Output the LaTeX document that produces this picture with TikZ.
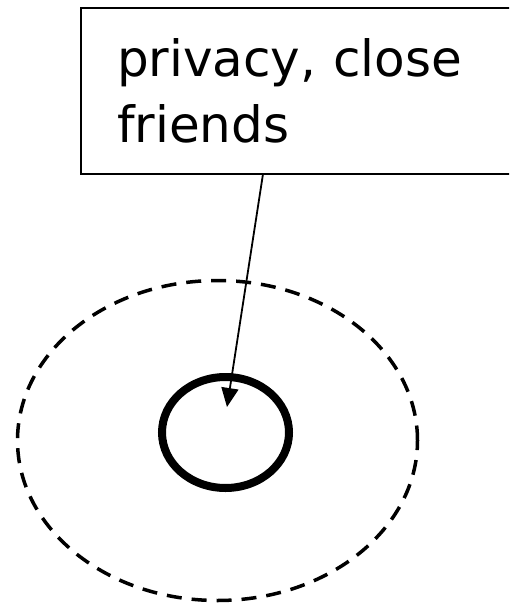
\documentclass[tikz,border=0pt]{standalone}
\usepackage{fontspec}
\setmainfont{DejaVu Sans}
\usetikzlibrary{shapes.geometric,arrows.meta}
\tikzset{
  labelbox/.style={draw, line width=2pt, anchor=north west, inner xsep=36pt, inner ysep=0pt,
    minimum width=440pt, minimum height=166pt, text width=368pt, align=left,
    font=\fontsize{50}{66}\selectfont},
  outerring/.style={ellipse, draw, dashed, dash pattern=on 15pt off 10pt, line width=3.5pt,
    minimum width=400pt, minimum height=320pt, inner sep=0pt},
  innerring/.style={ellipse, draw, line width=8pt, minimum width=127pt, minimum height=111pt, inner sep=0pt},
  pointer/.style={line width=1.8pt, -{Triangle[length=19pt, width=17pt]}}
}
\begin{document}
\begin{tikzpicture}[x=1pt, y=-1pt]
\useasboundingbox (0,0) rectangle (509,605);
\begin{scope}
\clip (0,0) rectangle (509,605);
\node[labelbox] (box) at (80,7) {privacy, close\\friends};
\node[outerring] (outer) at (217.5,440.5) {};
\node[innerring] (inner) at (225.5,432.5) {};
\coordinate (start) at (263,174);
\coordinate (tip) at (227,407);
\draw[pointer] (start) -- (tip);
\end{scope}
\end{tikzpicture}
\end{document}
